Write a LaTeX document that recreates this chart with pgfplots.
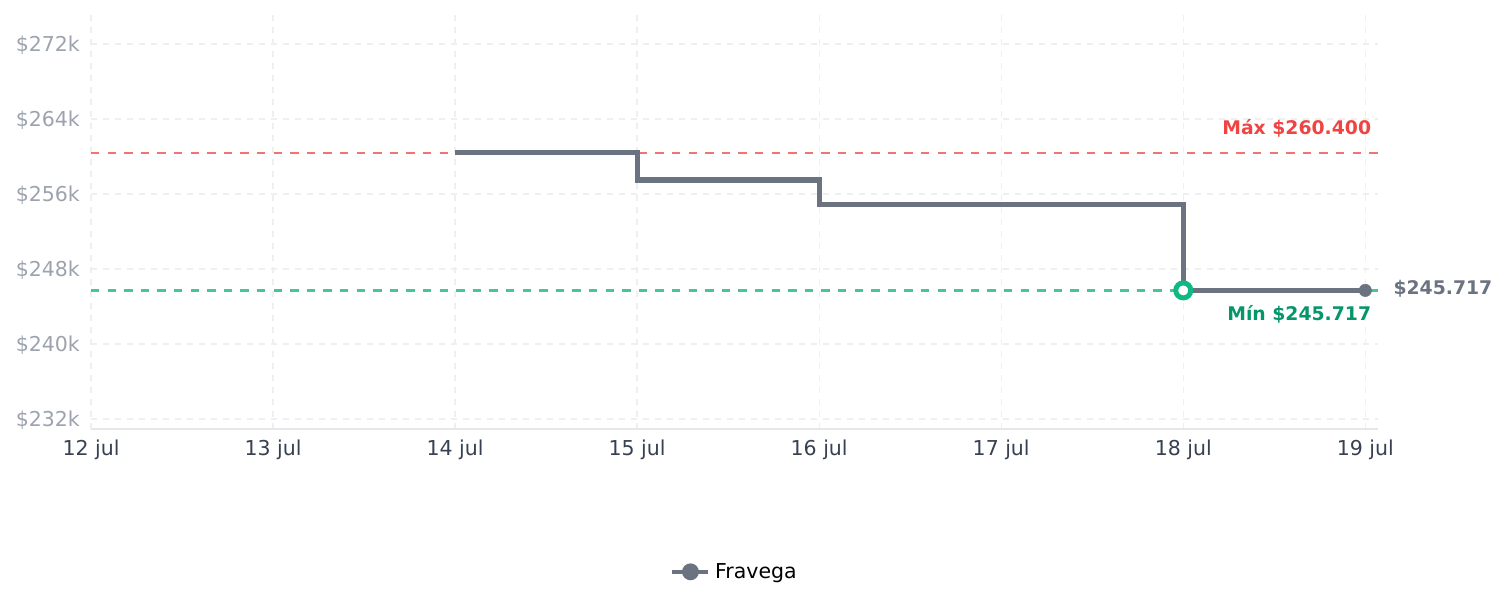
\documentclass[border=0pt]{standalone}
\usepackage{fontspec}
\setmainfont{DejaVu Sans}
\usepackage{pgfplots}
\pgfplotsset{compat=1.18}
\definecolor{linegray}{HTML}{6B7280}
\definecolor{ylab}{HTML}{9CA3AF}
\definecolor{xlab}{HTML}{374151}
\definecolor{gridc}{HTML}{EEEFF1}
\definecolor{axisc}{HTML}{E5E7EB}
\definecolor{redl}{HTML}{EF4444}
\definecolor{greenl}{HTML}{10B981}
\definecolor{greent}{HTML}{059669}
\begin{document}
\begin{tikzpicture}
\useasboundingbox (0,0) rectangle (1505bp,607bp);
\begin{axis}[
  at={(91bp,178bp)}, anchor=south west,
  scale only axis, width=1287bp, height=414bp,
  xmin=0, xmax=7.07, ymin=230930, ymax=275100,
  clip=false,
  scaled y ticks=false, scaled x ticks=false,
  axis x line*=bottom, axis y line*=left,
  x axis line style={draw=axisc, line width=1.5bp, -},
  y axis line style={draw=none},
  major tick length=0pt,
  xtick={0,1,2,3,4,5,6,7},
  xticklabels={12 jul,13 jul,14 jul,15 jul,16 jul,17 jul,18 jul,19 jul},
  ytick={232000,240000,248000,256000,264000,272000},
  yticklabels={\$232k,\$240k,\$248k,\$256k,\$264k,\$272k},
  xticklabel style={font=\fontsize{20.5bp}{24bp}\selectfont, text=xlab, inner sep=0pt, yshift=-11bp},
  yticklabel style={font=\fontsize{20.5bp}{24bp}\selectfont, text=ylab, inner sep=0pt, xshift=-11bp, yshift=-1bp},
  grid=major,
  major grid style={draw=gridc, line width=1.3bp, dash pattern=on 6bp off 6bp},
  legend style={at={(0.5,-0.345)}, anchor=center, draw=none, fill=none,
    font=\fontsize{20.5bp}{24bp}\selectfont},
  legend image code/.code={\draw[line width=4.2bp, draw=linegray] (0bp,0bp) -- (36bp,0bp); \fill[linegray] (18bp,0bp) circle (5.8bp); \path (38bp,0bp);},
]
\addplot[forget plot, draw=redl, draw opacity=0.75, line width=2.2bp, dash pattern=on 8.3bp off 8.3bp] coordinates {(0,260400) (7.07,260400)};
\addplot[forget plot, draw=greenl, draw opacity=0.8, line width=2.2bp, dash pattern=on 8.3bp off 8.3bp] coordinates {(0,245717) (7.07,245717)};
\addplot[const plot, draw=linegray, line width=5.2bp, line join=miter, mark=none] coordinates {
(2,260400) (3,257500) (4,254900) (5,254900) (6,245717) (7,245717)};
\addlegendentry{Fravega}
\addplot[forget plot, only marks, mark=*, mark size=6.2bp, mark options={fill=linegray, draw=linegray, line width=0.5bp}] coordinates {(7,245717)};
\addplot[forget plot, only marks, mark=*, mark size=7.5bp, mark options={fill=white, draw=greenl, line width=5bp}] coordinates {(6,245717)};
\node[anchor=east, text=redl, font=\fontsize{18.8bp}{22bp}\selectfont\bfseries, inner sep=0pt] at (axis cs:7.033,263040) {Máx \$260.400};
\node[anchor=east, text=greent, font=\fontsize{18.8bp}{22bp}\selectfont\bfseries, inner sep=0pt] at (axis cs:7.033,243200) {Mín \$245.717};
\node[anchor=west, text=linegray, font=\fontsize{18.8bp}{22bp}\selectfont\bfseries, inner sep=0pt] at (axis cs:7.154,245860) {\$245.717};
\end{axis}
\end{tikzpicture}
\end{document}
